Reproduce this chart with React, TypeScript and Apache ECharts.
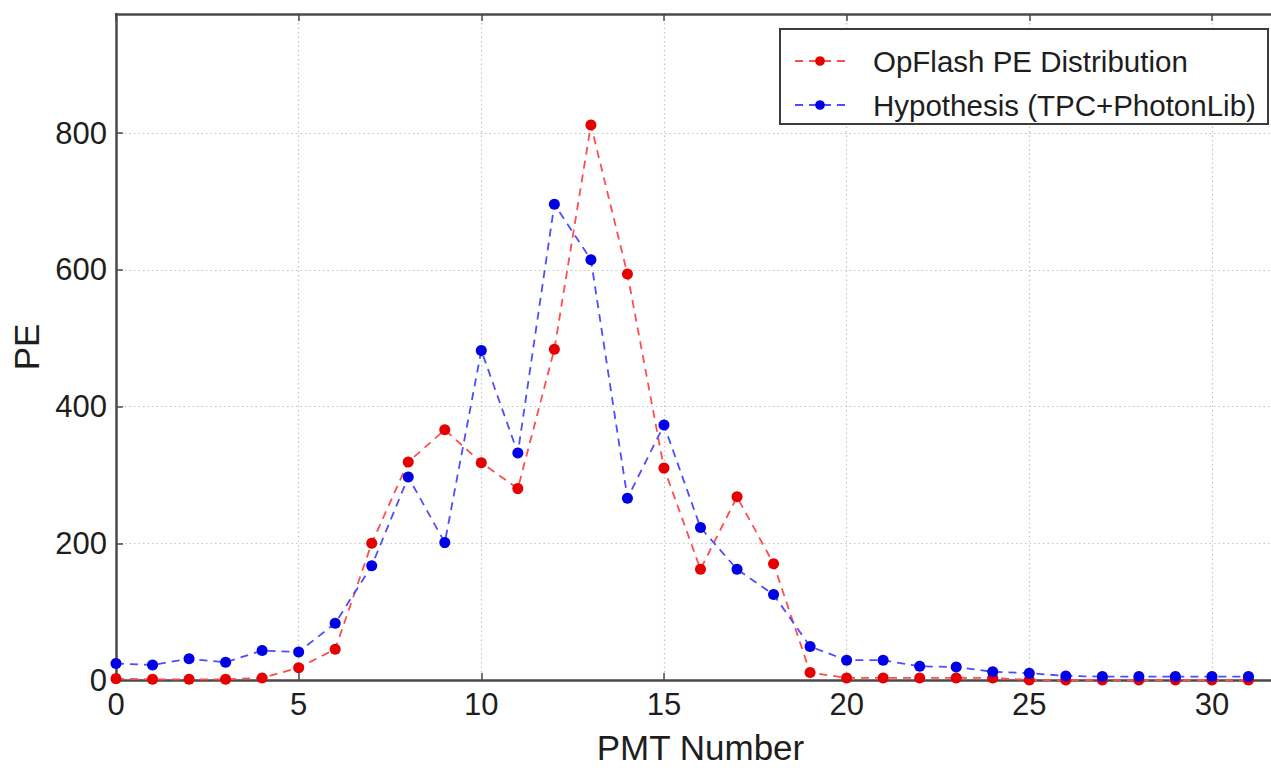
import React, { useEffect, useRef } from "react";
import * as echarts from "echarts";

// PMT channel numbers
const pmtNumbers = [
  0, 1, 2, 3, 4, 5, 6, 7, 8, 9, 10, 11, 12, 13, 14, 15,
  16, 17, 18, 19, 20, 21, 22, 23, 24, 25, 26, 27, 28, 29, 30, 31,
];

// Measured photo-electrons per PMT
const opFlashPE = [
  2, 1, 1, 1, 3, 18, 45, 200, 319, 366, 318, 280, 484, 812, 594, 310,
  162, 268, 170, 11, 3, 3, 3, 3, 3, 0, 0, 0, 0, 0, 0, 0,
];

// Predicted photo-electrons per PMT
const hypothesisPE = [
  24, 22, 31, 26, 43, 41, 83, 167, 297, 201, 482, 332, 696, 615, 266, 373,
  223, 162, 125, 49, 29, 29, 20, 19, 12, 10, 6, 5, 5, 5, 5, 5,
];

const seriesNames = ["OpFlash PE Distribution", "Hypothesis (TPC+PhotonLib)"];
const xTicks = [0, 5, 10, 15, 20, 25, 30];
const yTicks = [0, 200, 400, 600, 800];

const FONT = "'Liberation Sans', Arial, Helvetica, sans-serif";
const AXIS_COLOR = "#4a4a4a";
const TEXT_COLOR = "#1e1e1e";

export default function App() {
  const ref = useRef<HTMLDivElement>(null);

  useEffect(() => {
    if (!ref.current) return;
    const chart = echarts.init(ref.current, undefined, { renderer: "svg" });

    const pairs = (ys: number[]) => pmtNumbers.map((x, i) => [x, ys[i]]);
    // headroom above the tallest measured value
    const yMax = Math.max(...opFlashPE) * 1.2;

    const gridSplit = {
      show: true,
      lineStyle: { color: "#c4c4c4", width: 1.2, type: [1.5, 3] as any },
    };

    chart.setOption({
      animation: false,
      backgroundColor: "#ffffff",
      textStyle: { fontFamily: FONT },
      grid: { left: 116, top: 14, right: 35, bottom: 95, containLabel: false },
      graphic: [
        {
          type: "rect",
          z: 10,
          shape: { x: 780, y: 29, width: 488, height: 95 },
          style: { fill: "#ffffff", stroke: "#3c3c3c", lineWidth: 2 },
        },
      ],
      legend: {
        z: 20,
        orient: "vertical",
        left: 794,
        top: 45,
        padding: 0,
        itemWidth: 50,
        itemHeight: 12,
        itemGap: 12,
        data: seriesNames,
        textStyle: {
          fontFamily: FONT,
          fontSize: 29.5,
          lineHeight: 32,
          color: TEXT_COLOR,
          padding: [0, 0, 0, 23],
        },
      },
      xAxis: [
        {
          type: "value",
          min: 0,
          max: 32,
          interval: 5,
          name: "PMT Number",
          nameLocation: "middle",
          nameGap: 50,
          nameTextStyle: { fontFamily: FONT, fontSize: 35, color: TEXT_COLOR },
          axisLine: { show: true, onZero: false, lineStyle: { color: AXIS_COLOR, width: 2.5 } },
          axisTick: { show: true, inside: true, length: 7, lineStyle: { color: AXIS_COLOR, width: 1.5 } },
          axisLabel: {
            fontFamily: FONT,
            fontSize: 31,
            color: TEXT_COLOR,
            margin: 9,
            showMaxLabel: false,
            formatter: (v: number) => (xTicks.includes(v) ? String(v) : ""),
          },
          splitLine: gridSplit,
        },
        {
          type: "value",
          position: "top",
          min: 0,
          max: 32,
          interval: 5,
          axisLine: { show: true, onZero: false, lineStyle: { color: AXIS_COLOR, width: 2.5 } },
          axisTick: { show: true, inside: true, length: 7, lineStyle: { color: AXIS_COLOR, width: 1.5 } },
          axisLabel: { show: false },
          splitLine: { show: false },
        },
      ],
      yAxis: {
        type: "value",
        min: 0,
        max: yMax,
        interval: 200,
        name: "PE",
        nameLocation: "middle",
        nameGap: 65,
        nameTextStyle: { fontFamily: FONT, fontSize: 35, color: TEXT_COLOR },
        axisLine: { show: true, onZero: false, lineStyle: { color: AXIS_COLOR, width: 2.5 } },
        axisTick: { show: true, inside: true, length: 7, lineStyle: { color: AXIS_COLOR, width: 1.5 } },
        axisLabel: {
          fontFamily: FONT,
          fontSize: 31,
          color: TEXT_COLOR,
          margin: 9,
          padding: [11, 0, 0, 0],
          showMaxLabel: false,
          formatter: (v: number) => (yTicks.includes(v) ? String(v) : ""),
        },
        splitLine: gridSplit,
      },
      series: [
        {
          name: seriesNames[0],
          type: "line",
          data: pairs(opFlashPE),
          symbol: "circle",
          symbolSize: 11,
          itemStyle: { color: "#e60000" },
          lineStyle: { color: "#ff4d4d", width: 1.8, type: [8, 6] },
          z: 2,
        },
        {
          name: seriesNames[1],
          type: "line",
          data: pairs(hypothesisPE),
          symbol: "circle",
          symbolSize: 11,
          itemStyle: { color: "#0000e6" },
          lineStyle: { color: "#4d4dff", width: 1.8, type: [8, 6] },
          z: 3,
        },
      ],
    });

    return () => chart.dispose();
  }, []);

  return (
    <div
      style={{
        position: "fixed",
        left: 0,
        top: 0,
        width: 1271,
        height: 775,
        overflow: "hidden",
        background: "#ffffff",
      }}
    >
      <div ref={ref} style={{ width: 1320, height: 775 }} />
    </div>
  );
}
